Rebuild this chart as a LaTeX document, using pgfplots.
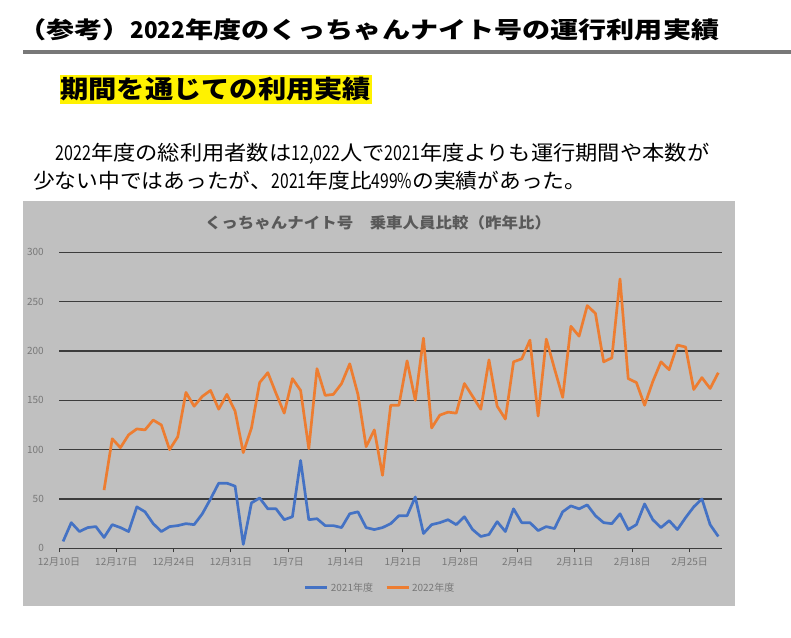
\documentclass[border=0pt]{standalone}
\usepackage{pgfplots}
\pgfplotsset{compat=1.18}
\usepackage{fontspec}
\setmainfont{Noto Sans CJK JP}
\newcommand{\nd}[1]{\scalebox{0.8}[1]{#1}}
\newcommand{\ndb}[1]{\scalebox{0.72}[1]{#1}}
\definecolor{chartbg}{RGB}{192,192,192}
\definecolor{gridc}{RGB}{60,60,60}
\definecolor{tickc}{RGB}{120,120,120}
\definecolor{blueS}{RGB}{68,114,196}
\definecolor{orangeS}{RGB}{237,125,49}
\definecolor{titlec}{RGB}{89,89,89}
\definecolor{rulec}{RGB}{120,120,120}
\begin{document}
\begin{tikzpicture}
\useasboundingbox (0pt,0pt) rectangle (791pt,-637pt);
\fill[white] (0pt,0pt) rectangle (791pt,-637pt);
% header
\node[anchor=base west, inner sep=0pt] at (18pt,-38.5pt) {\resizebox{701pt}{\height}{\fontsize{23}{23}\selectfont\bfseries （参考）\nd{2022}年度のくっちゃんナイト号の運行利用実績}};
\draw[rulec, line width=4pt] (23pt,-52pt) -- (791pt,-52pt);
\fill[yellow] (60pt,-75pt) rectangle (372pt,-104pt);
\node[anchor=base west, inner sep=0pt] at (60pt,-98.5pt) {\resizebox{311pt}{\height}{\fontsize{25}{25}\selectfont\bfseries 期間を通じての利用実績}};
\node[anchor=base west, inner sep=0pt] at (33pt,-160.5pt) {\resizebox{676pt}{\height}{\fontsize{20.5}{20.5}\selectfont 　\ndb{2022}年度の総利用者数は\ndb{12,022}人で\ndb{2021}年度よりも運行期間や本数が}};
\node[anchor=base west, inner sep=0pt] at (33pt,-188.5pt) {\resizebox{553pt}{\height}{\fontsize{20.5}{20.5}\selectfont 少ない中ではあったが、\ndb{2021}年度比\ndb{499\%}の実績があった。}};
% chart area
\fill[chartbg] (23pt,-201pt) rectangle (735pt,-606pt);
\node[anchor=center, inner sep=0pt, text=titlec] at (378pt,-223pt) {\resizebox{346pt}{\height}{\fontsize{15}{15}\selectfont\bfseries くっちゃんナイト号　乗車人員比較（昨年比）}};
\begin{axis}[
  at={(59pt,-548.3pt)}, anchor=south west,
  scale only axis, width=663.4pt, height=296pt,
  xmin=0, xmax=81, ymin=0, ymax=300,
  axis lines*=left, axis line style={-},
  y axis line style={draw=none},
  x axis line style={gridc, line width=1.3pt},
  ymajorgrids, grid style={gridc, line width=1.3pt},
  ytick={0,50,...,300},
  xtick={0,7,...,77},
  xticklabels={12月10日,12月17日,12月24日,12月31日,1月7日,1月14日,1月21日,1月28日,2月4日,2月11日,2月18日,2月25日},
  tick align=outside, major tick length=4pt,
  ytick style={draw=none},
  xtick style={gridc, line width=1pt},
  /pgf/number format/assume math mode=true,
  ticklabel style={font=\fontsize{10}{10}\selectfont, text=tickc, inner sep=0pt},
  yticklabel style={anchor=east, xshift=-11pt},
  xticklabel style={anchor=center, yshift=-10pt},
  legend style={at={(0.484,-0.134)}, anchor=center, draw=none, fill=none,
    font=\fontsize{10}{10}\selectfont, text=tickc,
    /tikz/every even column/.append style={column sep=10pt}},
  legend columns=2,
  legend image code/.code={\draw[#1, line width=3pt] (0pt,0pt) -- (22pt,0pt);},
]
\addplot[blueS, line width=2.7pt, line join=round] coordinates {
(0.5,7)(1.5,26)(2.5,17)(3.5,21)(4.5,22)(5.5,11)(6.5,24)(7.5,21)(8.5,17)(9.5,42)(10.5,37)(11.5,25)(12.5,17)(13.5,22)(14.5,23)(15.5,25)(16.5,24)(17.5,35)(18.5,50)(19.5,66)(20.5,66)(21.5,63)(22.5,4)(23.5,46)(24.5,51)(25.5,40)(26.5,40)(27.5,29)(28.5,32)(29.5,89)(30.5,29)(31.5,30)(32.5,23)(33.5,23)(34.5,21)(35.5,35)(36.5,37)(37.5,21)(38.5,19)(39.5,21)(40.5,25)(41.5,33)(42.5,33)(43.5,52)(44.5,15)(45.5,24)(46.5,26)(47.5,29)(48.5,24)(49.5,32)(50.5,19)(51.5,12)(52.5,14)(53.5,27)(54.5,17)(55.5,40)(56.5,26)(57.5,26)(58.5,18)(59.5,22)(60.5,20)(61.5,37)(62.5,43)(63.5,40)(64.5,44)(65.5,33)(66.5,26)(67.5,25)(68.5,35)(69.5,19)(70.5,24)(71.5,45)(72.5,29)(73.5,21)(74.5,28)(75.5,19)(76.5,31)(77.5,42)(78.5,50)(79.5,24)(80.5,12)
};
\addlegendentry{2021年度}
\addplot[orangeS, line width=2.7pt, line join=round] coordinates {
(5.5,59)(6.5,111)(7.5,102)(8.5,115)(9.5,121)(10.5,120)(11.5,130)(12.5,125)(13.5,100)(14.5,113)(15.5,158)(16.5,144)(17.5,154)(18.5,160)(19.5,141)(20.5,156)(21.5,139)(22.5,97)(23.5,122)(24.5,168)(25.5,178)(26.5,157)(27.5,137)(28.5,172)(29.5,160)(30.5,101)(31.5,182)(32.5,155)(33.5,156)(34.5,167)(35.5,187)(36.5,156)(37.5,103)(38.5,120)(39.5,74)(40.5,145)(41.5,145)(42.5,190)(43.5,150)(44.5,213)(45.5,122)(46.5,135)(47.5,138)(48.5,137)(49.5,167)(50.5,154)(51.5,141)(52.5,191)(53.5,144)(54.5,131)(55.5,189)(56.5,192)(57.5,211)(58.5,134)(59.5,212)(60.5,182)(61.5,153)(62.5,225)(63.5,215)(64.5,246)(65.5,238)(66.5,189)(67.5,193)(68.5,273)(69.5,172)(70.5,168)(71.5,145)(72.5,169)(73.5,189)(74.5,181)(75.5,206)(76.5,204)(77.5,161)(78.5,173)(79.5,162)(80.5,178)
};
\addlegendentry{2022年度}
\end{axis}
\end{tikzpicture}
\end{document}
